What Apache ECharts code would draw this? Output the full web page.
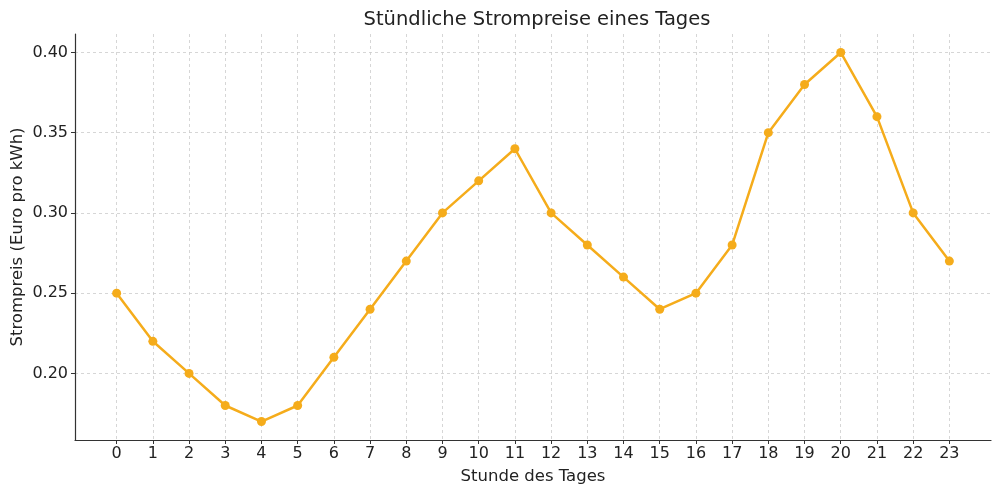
<!DOCTYPE html>
<html>
<head>
	<meta charset="utf-8">
	<title>Strompreise</title>
	<style>
		* { margin: 0; padding: 0; }
		body { background: #fff; }
		#chart { width: 1000px; height: 495px; }
	</style>
</head>
<body>
	<div id="chart"></div>
	<script src="https://cdn.jsdelivr.net/npm/echarts@6/dist/echarts.min.js"></script>
	<script type="text/javascript">
		var hours = [0, 1, 2, 3, 4, 5, 6, 7, 8, 9, 10, 11, 12, 13, 14, 15, 16, 17, 18, 19, 20, 21, 22, 23];
		var prices = [0.25, 0.22, 0.20, 0.18, 0.17, 0.18, 0.21, 0.24, 0.27, 0.30, 0.32, 0.34,
			0.30, 0.28, 0.26, 0.24, 0.25, 0.28, 0.35, 0.38, 0.40, 0.36, 0.30, 0.27];
		var yTicks = [0.20, 0.25, 0.30, 0.35, 0.40];

		var myChart = echarts.init(document.getElementById('chart'));

		var font = 'DejaVu Sans';
		var lineColor = '#F5AC1B';
		var axisColor = '#333';

		var data = hours.map(function (h, i) { return [h, prices[i]]; });

		var option = {
			animation: false,
			textStyle: { fontFamily: font },
			title: {
				text: 'Stündliche Strompreise eines Tages',
				left: 532,
				textAlign: 'center',
				top: 5,
				textStyle: { fontFamily: font, fontSize: 19.5, fontWeight: 'normal', color: '#222' }
			},
			grid: { left: 75, right: 9, top: 34, bottom: 55, outerBoundsMode: 'none', containLabel: false },
			xAxis: {
				type: 'value',
				min: -1.15,
				max: 24.15,
				name: 'Stunde des Tages',
				nameLocation: 'middle',
				nameGap: 28,
				nameMoveOverlap: false,
				nameTextStyle: { fontFamily: font, fontSize: 16.5, color: '#222' },
				axisLine: { show: true, onZero: false, lineStyle: { color: axisColor, width: 1.2 } },
				axisTick: { show: true, customValues: hours, length: 4, lineStyle: { color: axisColor } },
				axisLabel: { customValues: hours, fontSize: 16, color: '#222', margin: 6 },
				splitLine: { show: true, lineStyle: { color: '#cccccc', type: [3, 3], width: 0.8 } }
			},
			yAxis: {
				type: 'value',
				min: 0.1585,
				max: 0.4115,
				name: 'Strompreis (Euro pro kWh)',
				nameLocation: 'middle',
				nameGap: 49,
				nameMoveOverlap: false,
				nameTextStyle: { fontFamily: font, fontSize: 16.5, color: '#222' },
				axisLine: { show: true, onZero: false, lineStyle: { color: axisColor, width: 1.2 } },
				axisTick: { show: true, customValues: yTicks, length: 4, lineStyle: { color: axisColor } },
				axisLabel: {
					customValues: yTicks,
					fontSize: 16,
					color: '#222',
					margin: 7,
					formatter: function (v) { return v.toFixed(2); }
				},
				splitLine: { show: true, lineStyle: { color: '#cccccc', type: [3, 3], width: 0.8 } }
			},
			series: [{
				type: 'line',
				data: data,
				symbol: 'circle',
				symbolSize: 9,
				itemStyle: { color: lineColor },
				lineStyle: { color: lineColor, width: 2.5 }
			}]
		};

		myChart.setOption(option);
	</script>
</body>
</html>
